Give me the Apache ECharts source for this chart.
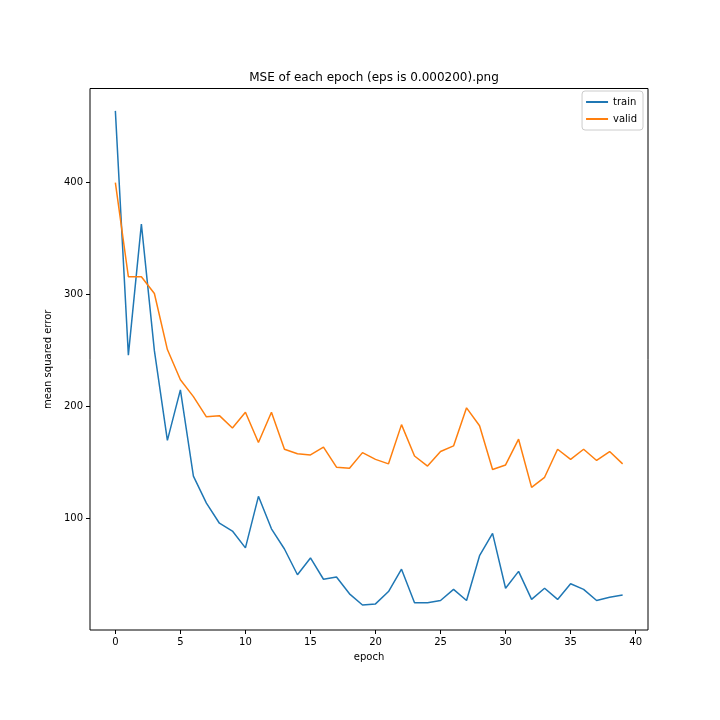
<!DOCTYPE html>
<html>
<head>
<meta charset="utf-8">
<script src="https://cdn.jsdelivr.net/npm/echarts@6/dist/echarts.min.js"></script>
<style>
html,body{margin:0;padding:0;background:#fff;}
#chart{width:720px;height:720px;}
</style>
</head>
<body>
<div id="chart"></div>
<script>
const epochs = [0,1,2,3,4,5,6,7,8,9,10,11,12,13,14,15,16,17,18,19,20,21,22,23,24,25,26,27,28,29,30,31,32,33,34,35,36,37,38,39];
const trainValues = [464,246,363,250,170,215,138,114,96,89,74,120,91,73,50,65,46,48,33,23,24,35,55,25,25,27,37,27,67,87,38,53,28,38,28,42,37,27,30,32];
const validValues = [400,316,316,301,251,224,209,191,192,181,195,168,195,162,158,157,164,146,145,159,153,149,184,156,147,160,165,199,183,144,148,171,128,137,162,153,162,152,160,149];
const xTicks = [0,5,10,15,20,25,30,35,40];
const yTicks = [100,200,300,400];

const chart = echarts.init(document.getElementById('chart'), null, {renderer:'canvas'});
const font = 'DejaVu Sans';
chart.setOption({
  animation:false,
  backgroundColor:'#fff',
  title:{
    text:'MSE of each epoch (eps is 0.000200).png',
    left:369, top:67, textAlign:'center',
    textStyle:{fontFamily:font,fontSize:12,fontWeight:'normal',color:'#000'}
  },
  legend:{
    orient:'vertical',
    right:77, top:91,
    data:['train','valid'],
    icon:'rect', itemWidth:22, itemHeight:2, itemGap:7,
    padding:[6,6,6,4],
    backgroundColor:'#fff', borderColor:'#ccc', borderWidth:1, borderRadius:3,
    textStyle:{fontFamily:font,fontSize:10,color:'#000'}
  },
  grid:{
    left:90, right:72, top:88.5, bottom:90,
    show:true, borderColor:'#000', borderWidth:1, backgroundColor:'transparent'
  },
  xAxis:{
    type:'value', min:-1.95, max:40.95,
    name:'epoch', nameLocation:'middle', nameGap:22,
    nameTextStyle:{fontFamily:font,fontSize:10,color:'#000'},
    axisLine:{show:false,onZero:false},
    axisTick:{show:true,length:4,customValues:xTicks,lineStyle:{color:'#000'}},
    axisLabel:{customValues:xTicks,fontFamily:font,fontSize:10,color:'#000',margin:7},
    splitLine:{show:false}
  },
  yAxis:{
    type:'value', min:0.7, max:484,
    name:'mean squared error', nameLocation:'middle', nameGap:31, nameRotate:90,
    nameTextStyle:{fontFamily:font,fontSize:10,color:'#000'},
    axisLine:{show:false,onZero:false},
    axisTick:{show:true,length:4,customValues:yTicks,lineStyle:{color:'#000'}},
    axisLabel:{customValues:yTicks,fontFamily:font,fontSize:10,color:'#000',margin:7},
    splitLine:{show:false}
  },
  series:[
    {name:'train',type:'line',data:epochs.map((e,i)=>[e,trainValues[i]]),showSymbol:false,
     lineStyle:{color:'#1f77b4',width:1.5},itemStyle:{color:'#1f77b4'}},
    {name:'valid',type:'line',data:epochs.map((e,i)=>[e,validValues[i]]),showSymbol:false,
     lineStyle:{color:'#ff7f0e',width:1.5},itemStyle:{color:'#ff7f0e'}}
  ]
});
</script>
</body>
</html>
